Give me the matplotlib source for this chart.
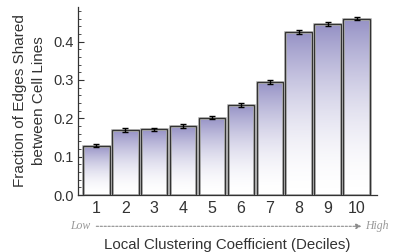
import numpy as np
import matplotlib
matplotlib.use('Agg')
import matplotlib.pyplot as plt
from matplotlib.colors import LinearSegmentedColormap
from matplotlib.ticker import MultipleLocator
import matplotlib.patheffects as pe

plt.rcParams['font.family'] = ['Liberation Sans', 'DejaVu Sans']

deciles = [1, 2, 3, 4, 5, 6, 7, 8, 9, 10]
shared = [0.128, 0.169, 0.171, 0.179, 0.201, 0.235, 0.295, 0.426, 0.445, 0.459]
err = [0.004, 0.005, 0.005, 0.005, 0.004, 0.005, 0.006, 0.005, 0.005, 0.004]

fig = plt.figure(figsize=(3.93, 2.52), dpi=100)
ax = fig.add_axes([0.198, 0.226, 0.761, 0.746])

cmap = LinearSegmentedColormap.from_list('fade', ['#ffffff', '#9591c5'])
grad = (np.linspace(0, 1, 256) ** 1.8).reshape(-1, 1)

bars = ax.bar(deciles, shared, width=0.92, facecolor='none',
              edgecolor='#333333', linewidth=1.0, zorder=3)
for b in bars:
    b.set_path_effects([pe.Stroke(linewidth=2.0, foreground='#c0c0c0'), pe.Normal()])
    x0 = b.get_x()
    h = b.get_height()
    im = ax.imshow(grad, cmap=cmap, aspect='auto', origin='lower',
                   vmin=0, vmax=1, interpolation='bilinear',
                   extent=[x0, x0 + b.get_width(), 0, h], zorder=2)
    im.set_clip_path(b)

ax.errorbar(deciles, shared, yerr=err, fmt='none', ecolor='black',
            elinewidth=1.0, capsize=2.5, capthick=1.0, zorder=4)

ax.set_xlim(0.36, 10.7)
ax.set_ylim(0, 0.49)
ax.yaxis.set_minor_locator(MultipleLocator(0.02))
ax.set_yticks([0.0, 0.1, 0.2, 0.3, 0.4])
ax.set_yticklabels(['0.0', '0.1', '0.2', '0.3', '0.4'])
ax.set_xticks(deciles)
ax.set_xticklabels([str(d) for d in deciles])

ax.tick_params(axis='y', which='major', direction='in', length=4, width=0.8,
               labelsize=10.5, colors='#333333', pad=3)
ax.tick_params(axis='y', which='minor', direction='in', length=2, width=0.6,
               colors='#333333')
ax.tick_params(axis='x', length=0, labelsize=11.5, colors='#333333', pad=4)

for s in ['top', 'right']:
    ax.spines[s].set_visible(False)
for s in ['left', 'bottom']:
    ax.spines[s].set_color('#333333')
    ax.spines[s].set_linewidth(0.9)

ax.set_ylabel('Fraction of Edges Shared\nbetween Cell Lines', fontsize=11,
              color='#333333', labelpad=5, linespacing=1.5)
ax.set_xlabel('Local Clustering Coefficient (Deciles)', fontsize=10.8,
              color='#333333', labelpad=16)

# Low -> High annotation under the ticks
fig.text(0.230, 0.102, 'Low', family='Liberation Serif', style='italic',
         fontsize=8.5, color='#999999', ha='right', va='center')
fig.text(0.930, 0.102, 'High', family='Liberation Serif', style='italic',
         fontsize=8.5, color='#999999', ha='left', va='center')
fig.add_artist(matplotlib.patches.FancyArrowPatch(
    (0.238, 0.102), (0.927, 0.102), transform=fig.transFigure,
    arrowstyle='-|>', mutation_scale=8, color='#8c8c8c',
    linestyle=(0, (2, 1.5)), linewidth=0.8))

fig.savefig('out.png', dpi=100)
